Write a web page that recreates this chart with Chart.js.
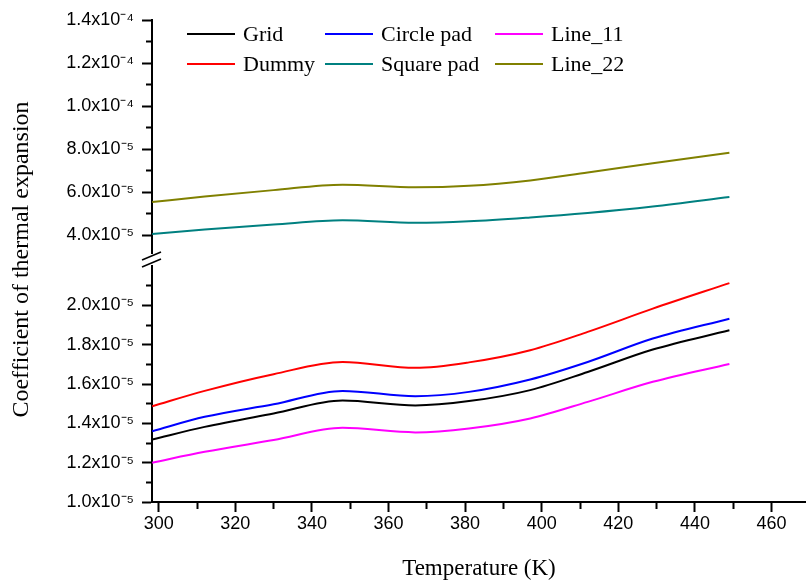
<!DOCTYPE html>
<html>
<head>
<meta charset="utf-8">
<script src="https://cdn.jsdelivr.net/npm/chart.js@4.4.1/dist/chart.umd.min.js"></script>
<style>
  body { margin: 0; background: #fff; }
  #wrap { position: relative; width: 806px; height: 583px; }
  #legendBox {
    position: absolute; left: 187px; top: 19px;
    display: grid; grid-auto-flow: column;
    grid-template-rows: 30px 30px;
    grid-template-columns: 138px 170px auto;
    font-family: "Liberation Serif", serif; font-size: 22px; color: #000;
  }
  .legItem { display: flex; align-items: center; white-space: nowrap; }
  .legLine { width: 48px; height: 2px; margin-right: 8px; }
</style>
</head>
<body>
<div id="wrap">
  <canvas id="cte" width="806" height="583"></canvas>
  <div id="legendBox"></div>
</div>

<script>
  // temperatures (K) the curves were read at
  const temps = [298.3, 312, 330, 348, 367, 381, 397, 412, 429, 449];

  // lower part of the broken axis
  const grid = [1.318e-5, 1.382e-5, 1.450e-5, 1.516e-5, 1.491e-5, 1.513e-5, 1.569e-5, 1.661e-5, 1.775e-5, 1.873e-5];
  const dummy = [1.487e-5, 1.565e-5, 1.650e-5, 1.712e-5, 1.682e-5, 1.710e-5, 1.772e-5, 1.865e-5, 1.983e-5, 2.113e-5];
  const circlePad = [1.360e-5, 1.433e-5, 1.497e-5, 1.565e-5, 1.538e-5, 1.560e-5, 1.623e-5, 1.712e-5, 1.831e-5, 1.932e-5];
  const line11 = [1.200e-5, 1.255e-5, 1.315e-5, 1.377e-5, 1.354e-5, 1.374e-5, 1.425e-5, 1.509e-5, 1.611e-5, 1.702e-5];

  // upper part
  const squarePad = [4.06e-5, 4.27e-5, 4.50e-5, 4.70e-5, 4.58e-5, 4.65e-5, 4.83e-5, 5.04e-5, 5.34e-5, 5.78e-5];
  const line22 = [5.55e-5, 5.80e-5, 6.10e-5, 6.35e-5, 6.23e-5, 6.30e-5, 6.55e-5, 6.92e-5, 7.35e-5, 7.84e-5];

  // axis ranges (tiny extra on the top so the 1.4e-4 tick survives rounding)
  const xRange = [298.25, 469];
  const upperRange = [3.18e-5, 1.40001e-4];
  const lowerRange = [1.0e-5, 2.2e-5];

  const sup = { "-": "\u207B", "0": "\u2070", "1": "\u00B9", "2": "\u00B2", "3": "\u00B3",
    "4": "\u2074", "5": "\u2075", "6": "\u2076", "7": "\u2077", "8": "\u2078", "9": "\u2079" };

  // 6e-5 -> "6.0x10⁻⁵"
  const sciLabel = function (v) {
    let exp = Math.floor(Math.log10(v) + 1e-9);
    let man = v / Math.pow(10, exp);
    let e = String(exp).split("").map((c) => sup[c]).join("");
    return man.toFixed(1) + "x10" + e;
  };

  const pts = (ys) => temps.map((t, i) => ({ x: t, y: ys[i] }));

  const series = [
    { label: "Grid", data: grid, color: "#000000", axis: "yLow" },
    { label: "Dummy", data: dummy, color: "#ff0000", axis: "yLow" },
    { label: "Circle pad", data: circlePad, color: "#0000ff", axis: "yLow" },
    { label: "Square pad", data: squarePad, color: "#008080", axis: "yUp" },
    { label: "Line_11", data: line11, color: "#ff00ff", axis: "yLow" },
    { label: "Line_22", data: line22, color: "#808000", axis: "yUp" }
  ];

  Chart.defaults.font.family = "Liberation Sans";
  Chart.defaults.color = "#000";

  //left ticks run from the outside in, so the dash gap comes first
  const leftDash = (minorTest) => (ctx) => (ctx.tick && minorTest(ctx.tick.value)) ? [0, 4, 20] : [];

  const htmlLegendPlugin = {
    id: "htmlLegend",
    afterUpdate(chart) {
      const box = document.getElementById("legendBox");
      box.innerHTML = "";
      chart.options.plugins.legend.labels.generateLabels(chart).forEach(function (item) {
        let li = document.createElement("div");
        li.className = "legItem";
        let ln = document.createElement("span");
        ln.className = "legLine";
        ln.style.background = item.strokeStyle;
        li.appendChild(ln);
        li.appendChild(document.createTextNode(item.text));
        box.appendChild(li);
      });
    }
  };

  // the two slashes on the broken y axis
  const axisBreakPlugin = {
    id: "axisBreak",
    afterDraw(chart) {
      const sp = chart.scales.ySp;
      const x = chart.chartArea.left;
      const c = chart.ctx;
      c.save();
      c.strokeStyle = "#000";
      c.lineWidth = 1.5;
      [sp.top + 3, sp.bottom - 3].forEach(function (cy) {
        c.beginPath();
        c.moveTo(x - 10, cy + 4);
        c.lineTo(x + 9, cy - 4);
        c.stroke();
      });
      c.restore();
    }
  };

  new Chart(document.getElementById("cte"), {
    type: "line",
    data: {
      datasets: series.map((s) => ({
        label: s.label,
        data: pts(s.data),
        borderColor: s.color,
        backgroundColor: s.color,
        borderWidth: 2,
        pointRadius: 0,
        cubicInterpolationMode: "monotone",
        yAxisID: s.axis
      }))
    },
    options: {
      responsive: false,
      animation: false,
      layout: { padding: { top: 20, left: 0, right: 0, bottom: 0 } },
      plugins: {
        legend: { display: false },
        tooltip: { enabled: false }
      },
      scales: {
        x: {
          type: "linear",
          min: xRange[0],
          max: xRange[1],
          afterFit: (s) => { s.height = 81; },
          afterBuildTicks: (s) => {
            s.ticks = s.ticks.filter((t) => Math.abs(t.value / 10 - Math.round(t.value / 10)) < 1e-6);
          },
          ticks: {
            stepSize: 10,
            includeBounds: false,
            maxRotation: 0,
            autoSkip: false,
            padding: 1,
            font: { size: 18 },
            callback: (v) => (Math.round(v) % 20 === 0 ? String(Math.round(v)) : "")
          },
          grid: {
            drawOnChartArea: false,
            tickLength: 10,
            tickWidth: 2,
            tickColor: "#000",
            tickBorderDash: (ctx) => (ctx.tick && Math.round(ctx.tick.value) % 20 !== 0) ? [6, 20] : []
          },
          border: { color: "#000", width: 2 },
          title: {
            display: true,
            text: "Temperature (K)",
            font: { family: "Liberation Serif", size: 23 },
            padding: { top: 0, bottom: 0 }
          }
        },
        yUp: {
          type: "linear",
          position: "left",
          stack: "ax",
          stackWeight: 233,
          weight: 3,
          min: upperRange[0],
          max: upperRange[1],
          afterFit: (s) => { s.width = 152; },
          afterBuildTicks: (s) => { s.ticks = s.ticks.filter((t) => t.value > 3.95e-5); },
          ticks: {
            stepSize: 1e-5,
            includeBounds: false,
            maxTicksLimit: 50,
            autoSkip: false,
            padding: 8,
            font: { size: 18 },
            callback: (v) => (Math.round(v / 1e-5) % 2 === 0 ? sciLabel(v) : "")
          },
          grid: {
            drawOnChartArea: false,
            tickLength: 10,
            tickWidth: 2,
            tickColor: "#000",
            tickBorderDash: leftDash((v) => Math.round(v / 1e-5) % 2 !== 0)
          },
          border: { color: "#000", width: 2 }
        },
        ySp: {
          type: "linear",
          position: "left",
          stack: "ax",
          stackWeight: 13,
          weight: 2,
          afterFit: (s) => { s.width = 152; },
          ticks: { display: false },
          grid: { display: false },
          border: { display: false },
          title: {
            display: true,
            text: "Coefficient of thermal expansion",
            font: { family: "Liberation Serif", size: 24 },
            padding: { top: 7, bottom: 0 }
          }
        },
        yLow: {
          type: "linear",
          position: "left",
          stack: "ax",
          stackWeight: 236,
          weight: 1,
          min: lowerRange[0],
          max: lowerRange[1],
          afterFit: (s) => { s.width = 152; },
          afterBuildTicks: (s) => { s.ticks = s.ticks.filter((t) => t.value < 2.15e-5); },
          ticks: {
            stepSize: 1e-6,
            includeBounds: false,
            maxTicksLimit: 50,
            autoSkip: false,
            padding: 8,
            font: { size: 18 },
            callback: (v) => (Math.round(v / 1e-6) % 2 === 0 ? sciLabel(v) : "")
          },
          grid: {
            drawOnChartArea: false,
            tickLength: 10,
            tickWidth: 2,
            tickColor: "#000",
            tickBorderDash: leftDash((v) => Math.round(v / 1e-6) % 2 !== 0)
          },
          border: { color: "#000", width: 2 }
        }
      }
    },
    plugins: [htmlLegendPlugin, axisBreakPlugin]
  });
</script>
</body>
</html>
